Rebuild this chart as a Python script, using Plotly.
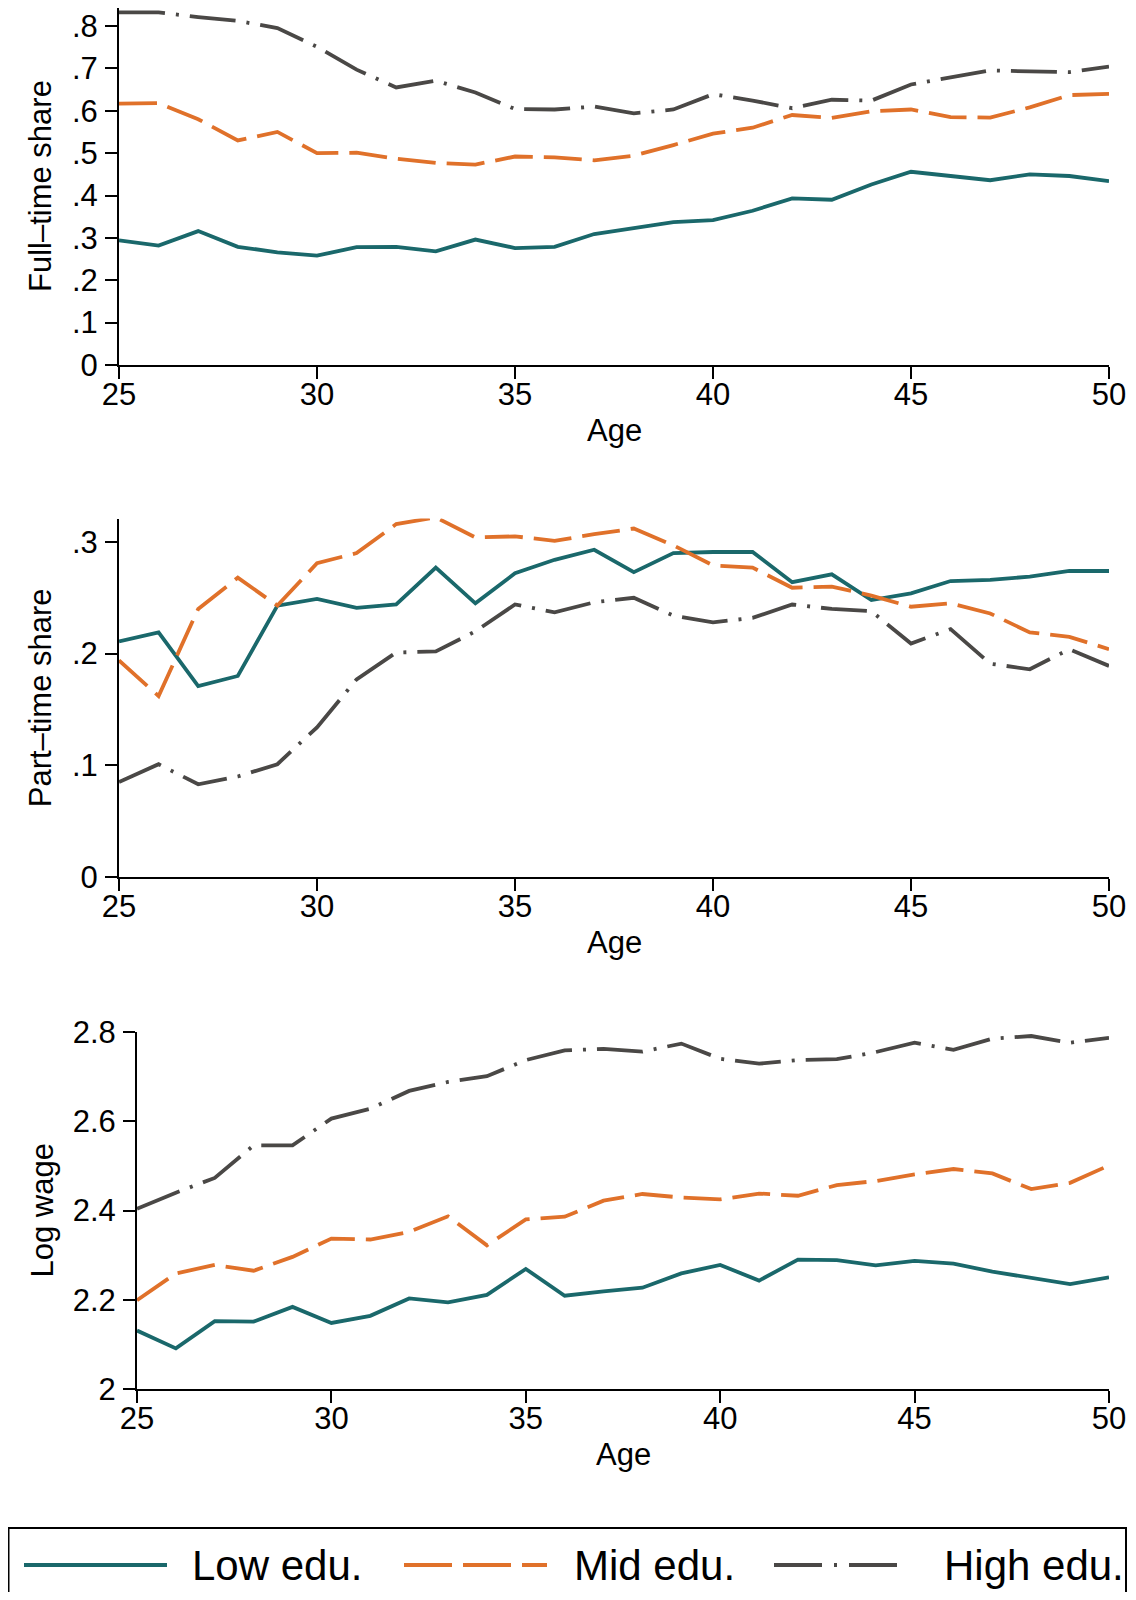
import plotly.graph_objects as go
from plotly.subplots import make_subplots

ages = list(range(25, 51))

# full-time share by education group
full_low = [0.294, 0.282, 0.316, 0.279, 0.266, 0.258, 0.278, 0.279, 0.268, 0.296, 0.276, 0.279, 0.309,
            0.324, 0.337, 0.342, 0.364, 0.393, 0.390, 0.426, 0.456, 0.446, 0.436, 0.450, 0.446, 0.434]
full_mid = [0.617, 0.618, 0.580, 0.530, 0.550, 0.500, 0.501, 0.487, 0.477, 0.473, 0.492, 0.490, 0.483,
            0.494, 0.519, 0.546, 0.560, 0.590, 0.583, 0.599, 0.603, 0.585, 0.584, 0.608, 0.637, 0.640]
full_high = [0.832, 0.832, 0.821, 0.812, 0.795, 0.751, 0.697, 0.655, 0.671, 0.643, 0.604, 0.603, 0.610,
             0.594, 0.603, 0.639, 0.624, 0.606, 0.626, 0.624, 0.662, 0.678, 0.695, 0.693, 0.691, 0.704]

# part-time share
part_low = [0.211, 0.219, 0.171, 0.180, 0.243, 0.249, 0.241, 0.244, 0.277, 0.245, 0.272, 0.284, 0.293,
            0.273, 0.290, 0.291, 0.291, 0.264, 0.271, 0.248, 0.254, 0.265, 0.266, 0.269, 0.274, 0.274]
part_mid = [0.194, 0.162, 0.240, 0.268, 0.243, 0.281, 0.290, 0.316, 0.322, 0.304, 0.305, 0.301, 0.307,
            0.312, 0.297, 0.279, 0.277, 0.259, 0.260, 0.252, 0.242, 0.245, 0.236, 0.219, 0.215, 0.204]
part_high = [0.085, 0.101, 0.083, 0.090, 0.101, 0.134, 0.177, 0.201, 0.202, 0.220, 0.244, 0.237, 0.246,
             0.250, 0.234, 0.228, 0.232, 0.244, 0.240, 0.238, 0.209, 0.222, 0.191, 0.186, 0.204, 0.189]

# log wage
wage_low = [2.131, 2.091, 2.152, 2.151, 2.184, 2.148, 2.164, 2.203, 2.194, 2.211, 2.269, 2.209, 2.219,
            2.227, 2.259, 2.278, 2.243, 2.290, 2.289, 2.277, 2.287, 2.281, 2.263, 2.250, 2.235, 2.250]
wage_mid = [2.199, 2.259, 2.278, 2.265, 2.296, 2.337, 2.335, 2.352, 2.387, 2.322, 2.380, 2.386, 2.422,
            2.437, 2.429, 2.425, 2.438, 2.433, 2.457, 2.466, 2.481, 2.493, 2.483, 2.448, 2.462, 2.501]
wage_high = [2.404, 2.440, 2.473, 2.546, 2.546, 2.606, 2.628, 2.668, 2.688, 2.701, 2.737, 2.759, 2.762,
             2.756, 2.774, 2.740, 2.729, 2.737, 2.739, 2.755, 2.776, 2.760, 2.785, 2.791, 2.776, 2.787]

groups = ['Low edu.', 'Mid edu.', 'High edu.']
x_ticks = [25, 30, 35, 40, 45, 50]
share1_ticks = [0, .1, .2, .3, .4, .5, .6, .7, .8]
share1_text = ['0', '.1', '.2', '.3', '.4', '.5', '.6', '.7', '.8']
share2_ticks = [0, .1, .2, .3]
share2_text = ['0', '.1', '.2', '.3']
wage_ticks = [2, 2.2, 2.4, 2.6, 2.8]
wage_text = ['2', '2.2', '2.4', '2.6', '2.8']

# page has an 8px body margin, so the figure is a bit smaller than the window
PAGE = 8
W, H = 1136 - 2 * PAGE, 1600 - 2 * PAGE
FONT = 'Liberation Sans, Arial, sans-serif'
colors = ['#1a686b', '#e0712a', '#4a4846']
plot_dash = ['solid', '38px,11px', '46px,11px,3px,11px']
key_dash = ['solid', '48px,11px', '48px,12px,3px,12px']

panels = [
    ([full_low, full_mid, full_high], 'Full\u2013time share', [0, 0.8425], share1_ticks, share1_text),
    ([part_low, part_mid, part_high], 'Part\u2013time share', [0, 0.321], share2_ticks, share2_text),
    ([wage_low, wage_mid, wage_high], 'Log wage', [2, 2.8], wage_ticks, wage_text),
]


def px_x(p):
    # window pixel -> paper x
    return (p - PAGE) / W


def px_y(p):
    # window pixel -> paper y
    return 1 - (p - PAGE) / H


fig = make_subplots(rows=3, cols=1)

# window-pixel boxes of each panel (left, right, top, bottom)
boxes = [(119, 1109, 8, 365), (119, 1109, 518.5, 877), (137, 1109, 1032, 1389)]
ytitle_x = [40.5, 40.5, 42]

annotations = []
for i, (series, ytitle, yrange, yt, ytt) in enumerate(panels):
    row = i + 1
    for vals, name, c, d in zip(series, groups, colors, plot_dash):
        fig.add_trace(go.Scatter(x=ages, y=vals, name=name, mode='lines', showlegend=False,
                                 line=dict(color=c, width=3.8, dash=d)), row=row, col=1)
    l, r, t, b = boxes[i]
    ax = '' if i == 0 else str(row)
    axis_common = dict(showline=True, linecolor='black', linewidth=2, ticks='outside', ticklen=12,
                       tickwidth=2, tickcolor='black', showgrid=False, zeroline=False, automargin=False,
                       ticklabeloverflow='allow', tickfont=dict(family=FONT, size=31, color='black'))
    fig.update_layout(**{
        'xaxis' + ax: dict(domain=[px_x(l), px_x(r)], range=[25, 50], tickvals=x_ticks,
                           ticklabelstandoff=-11, **axis_common),
        'yaxis' + ax: dict(domain=[px_y(b), min(1, px_y(t))], range=yrange, tickvals=yt, ticktext=ytt,
                           ticklabelstandoff=1, **axis_common),
    })
    # axis titles
    annotations.append(dict(text='Age', x=px_x((l + r) / 2), y=px_y(b + 65), xref='paper', yref='paper',
                            xanchor='center', yanchor='middle', showarrow=False,
                            font=dict(family=FONT, size=31, color='black')))
    annotations.append(dict(text=ytitle, x=px_x(ytitle_x[i]), y=px_y((t + b) / 2), xref='paper',
                            yref='paper', xanchor='center', yanchor='middle', textangle=-90,
                            showarrow=False, font=dict(family=FONT, size=31, color='black')))

# legend drawn by hand in a box at the bottom
shapes = [dict(type='rect', xref='paper', yref='paper', x0=px_x(8.5), x1=px_x(1126), y0=px_y(1620),
               y1=px_y(1528), line=dict(color='black', width=2), fillcolor='white', layer='below')]
leg_lines = [(24, 167), (404, 547), (774, 909)]
leg_text_x = [190, 572, 942]
for (x0, x1), tx, name, c, d in zip(leg_lines, leg_text_x, groups, colors, key_dash):
    shapes.append(dict(type='line', xref='paper', yref='paper', x0=px_x(x0), x1=px_x(x1),
                       y0=px_y(1565), y1=px_y(1565), line=dict(color=c, width=4, dash=d)))
    annotations.append(dict(text=name, x=px_x(tx), y=px_y(1565), xref='paper', yref='paper',
                            xanchor='left', yanchor='middle', showarrow=False,
                            font=dict(family=FONT, size=42, color='black')))

fig.update_layout(template='none', width=W, height=H, margin=dict(l=0, r=0, t=0, b=0),
                  paper_bgcolor='white', plot_bgcolor='white',
                  annotations=annotations, shapes=shapes, font=dict(family=FONT))

fig.write_html("out.html")
